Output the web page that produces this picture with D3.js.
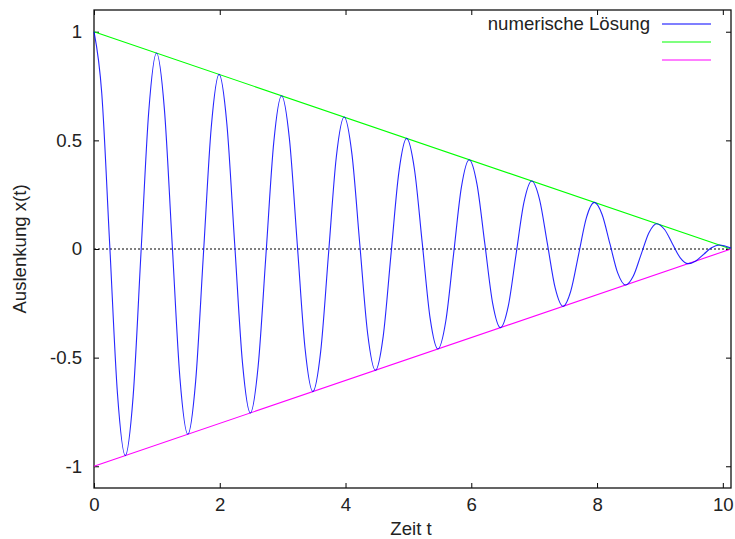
<!DOCTYPE html>
<html>
<head>
<meta charset="utf-8">
<script src="https://cdn.jsdelivr.net/npm/d3@7"></script>
<style>
  body { margin: 0; background: #fff; }
  svg text { font-family: "Liberation Sans", Arial, sans-serif; fill: #222; }
</style>
</head>
<body>
<div id="chart"></div>
<script>
// time values of the numeric solution
var times = [0, 0.124, 0.249, 0.373, 0.497, 0.622, 0.746, 0.870, 0.994, 1.119,
  1.243, 1.367, 1.492, 1.616, 1.740, 1.865, 1.989, 2.113, 2.237, 2.362,
  2.486, 2.610, 2.735, 2.859, 2.983, 3.108, 3.232, 3.356, 3.480, 3.605,
  3.729, 3.853, 3.978, 4.102, 4.226, 4.351, 4.475, 4.599, 4.723, 4.848,
  4.972, 5.096, 5.221, 5.345, 5.469, 5.594, 5.718, 5.842, 5.966, 6.091,
  6.215, 6.339, 6.464, 6.588, 6.712, 6.837, 6.961, 7.085, 7.210, 7.334,
  7.458, 7.582, 7.707, 7.831, 7.955, 8.080, 8.204, 8.328, 8.452, 8.577,
  8.701, 8.825, 8.950, 9.074, 9.198, 9.323, 9.447, 9.571, 9.695, 9.820,
  9.944, 10.13];
// displacement x(t)
var values = [1, 0.7143, 0.0245, -0.6653, -0.9509, -0.6795, -0.0245, 0.6305, 0.9018, 0.6449,
  0.0245, -0.5959, -0.8528, -0.6102, -0.0245, 0.5612, 0.8037, 0.5755, 0.0245, -0.5265,
  -0.7546, -0.5408, -0.0245, 0.4918, 0.7055, 0.5060, 0.0245, -0.4570, -0.6564, -0.4713,
  -0.0245, 0.4223, 0.6073, 0.4366, 0.0245, -0.3876, -0.5583, -0.4020, -0.0245, 0.3530,
  0.5092, 0.3672, 0.0245, -0.3182, -0.4601, -0.3325, -0.0245, 0.2835, 0.4110, 0.2978,
  0.0245, -0.2488, -0.3619, -0.2631, -0.0245, 0.2141, 0.3128, 0.2284, 0.0245, -0.1794,
  -0.2638, -0.1937, -0.0245, 0.1447, 0.2147, 0.1590, 0.0245, -0.1100, -0.1656, -0.1243,
  -0.0245, 0.0753, 0.1165, 0.0896, 0.0245, -0.0406, -0.0674, -0.0548, -0.0245, 0.0058,
  0.0183, 0.004];

// envelope lines
var envT = [0, 10.13];
var envUpper = [1, 0];
var envLower = [-1, 0];

var xTicks = [0, 2, 4, 6, 8, 10];
var yTicks = [-1, -0.5, 0, 0.5, 1];
var legendLabels = ["numerische Lösung", "", ""];
var legendColors = ["#0000ff", "#00ff00", "#ff00ff"];

var width = 735, height = 539;
var mLeft = 94, mRight = 731, mTop = 10, mBottom = 488;
var fontSize = "18.6px";

var svg = d3.select("#chart").append("svg")
    .attr("width", width)
    .attr("height", height);

var x = d3.scaleLinear().domain([0, 10.13]).range([mLeft, mRight]);
var y = d3.scaleLinear().domain([-1.1, 1.1]).range([mBottom, mTop]);

// zero line (dotted)
svg.append("line")
    .attr("x1", mLeft).attr("x2", mRight)
    .attr("y1", y(0)).attr("y2", y(0))
    .attr("stroke", "#000")
    .attr("stroke-width", 1)
    .attr("stroke-dasharray", "2,2");

// axes, ticks pointing inward, mirrored on top and right
var ax = svg.append("g").attr("class", "axes");
ax.append("g")
    .attr("transform", "translate(0," + mBottom + ")")
    .call(d3.axisBottom(x).tickValues(xTicks).tickFormat(d3.format("d")).tickSizeInner(-5).tickSizeOuter(0).tickPadding(10));
ax.append("g")
    .attr("transform", "translate(0," + mTop + ")")
    .call(d3.axisTop(x).tickValues(xTicks).tickFormat("").tickSizeInner(-5).tickSizeOuter(0));
ax.append("g")
    .attr("transform", "translate(" + mLeft + ",0)")
    .call(d3.axisLeft(y).tickValues(yTicks).tickFormat(function(d) { return d; }).tickSizeInner(-5).tickSizeOuter(0).tickPadding(12));
ax.append("g")
    .attr("transform", "translate(" + mRight + ",0)")
    .call(d3.axisRight(y).tickValues(yTicks).tickFormat("").tickSizeInner(-5).tickSizeOuter(0));
ax.selectAll(".domain").remove();
ax.selectAll(".tick line").attr("stroke", "#000");
ax.selectAll(".tick text")
    .style("font-size", fontSize)
    .style("font-family", "'Liberation Sans', Arial, sans-serif")
    .attr("fill", "#222");

// frame
svg.append("rect")
    .attr("x", mLeft).attr("y", mTop)
    .attr("width", mRight - mLeft).attr("height", mBottom - mTop)
    .attr("fill", "none")
    .attr("stroke", "#111")
    .attr("stroke-width", 1.3);

var line = d3.line()
    .x(function(d) { return x(d[0]); })
    .y(function(d) { return y(d[1]); });

// envelopes
svg.append("path")
    .datum(d3.zip(envT, envUpper))
    .attr("d", line)
    .attr("fill", "none")
    .attr("stroke", legendColors[1])
    .attr("stroke-width", 1.1);
svg.append("path")
    .datum(d3.zip(envT, envLower))
    .attr("d", line)
    .attr("fill", "none")
    .attr("stroke", legendColors[2])
    .attr("stroke-width", 1.1);

// numeric solution
svg.append("path")
    .datum(d3.zip(times, values))
    .attr("d", line.curve(d3.curveMonotoneX))
    .attr("fill", "none")
    .attr("stroke", legendColors[0])
    .attr("stroke-opacity", 0.85)
    .attr("stroke-width", 1.1);

// legend
var legend = svg.append("g").attr("class", "legend");
legendLabels.forEach(function(lab, i) {
  var ly = 24 + i * 18;
  legend.append("line")
      .attr("x1", 662).attr("x2", 711)
      .attr("y1", ly).attr("y2", ly)
      .attr("stroke", legendColors[i])
      .attr("stroke-width", 1.1);
  legend.append("text")
      .attr("x", 650).attr("y", ly + 6)
      .attr("text-anchor", "end")
      .style("font-size", fontSize)
      .text(lab);
});

// axis labels
svg.append("text")
    .attr("x", 411).attr("y", 535)
    .attr("text-anchor", "middle")
    .style("font-size", fontSize)
    .text("Zeit t");
svg.append("text")
    .attr("transform", "translate(26," + y(0) + ") rotate(-90)")
    .attr("text-anchor", "middle")
    .style("font-size", fontSize)
    .text("Auslenkung x(t)");
</script>
</body>
</html>
